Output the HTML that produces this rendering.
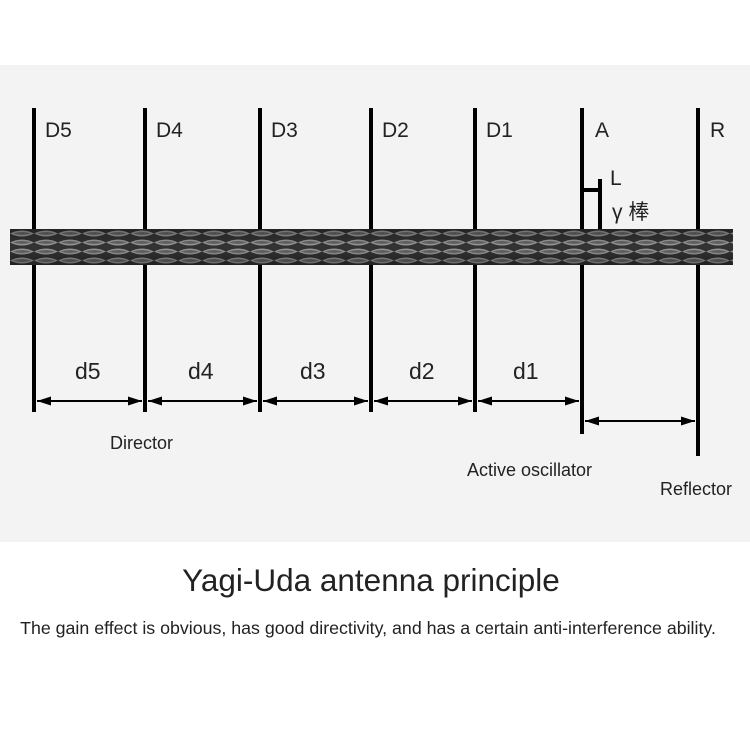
<!DOCTYPE html>
<html><head><meta charset="utf-8"><style>
html,body{margin:0;padding:0;background:#fff;width:750px;height:750px;overflow:hidden}
svg{display:block}
text{font-family:"Liberation Sans","Noto Sans CJK SC",sans-serif;fill:#222}
</style></head><body>
<svg width="750" height="750" viewBox="0 0 750 750" xmlns="http://www.w3.org/2000/svg">
<defs>
<pattern id="mesh" width="24" height="9" patternUnits="userSpaceOnUse" x="10" y="229">
<rect width="24" height="9" fill="#333"/>
<path d="M0 4.5 Q12 -1.5 24 4.5 Q12 10.5 0 4.5Z" fill="#9a9a9a"/>
<path d="M3 4.5 Q12 1.5 21 4.5 Q12 7.5 3 4.5Z" fill="#666"/>
</pattern>
<linearGradient id="shade" x1="0" y1="0" x2="0" y2="1">
<stop offset="0" stop-color="#000" stop-opacity="0.3"/>
<stop offset="0.5" stop-color="#000" stop-opacity="0"/>
<stop offset="1" stop-color="#000" stop-opacity="0.35"/>
</linearGradient>
<marker id="ah" viewBox="0 0 14 10" refX="14" refY="5" markerWidth="14" markerHeight="10" markerUnits="userSpaceOnUse" orient="auto-start-reverse"><path d="M0 0.5L14 5L0 9.5Z" fill="#000"/></marker>
</defs>
<rect x="0" y="65" width="750" height="477" fill="#f3f3f3"/>
<g stroke="#000" stroke-width="4">
<line x1="34" y1="108" x2="34" y2="412"/>
<line x1="145" y1="108" x2="145" y2="412"/>
<line x1="260" y1="108" x2="260" y2="412"/>
<line x1="371" y1="108" x2="371" y2="412"/>
<line x1="475" y1="108" x2="475" y2="412"/>
<line x1="582" y1="108" x2="582" y2="434"/>
<line x1="698" y1="108" x2="698" y2="456"/>
<line x1="600" y1="179" x2="600" y2="230"/>
<line x1="582" y1="190" x2="600" y2="190"/>
</g>
<rect x="10" y="229" width="723" height="36" fill="url(#mesh)"/>
<rect x="10" y="229" width="723" height="36" fill="url(#shade)"/>
<g stroke="#000" stroke-width="2">
<line x1="37" y1="401" x2="142" y2="401" marker-start="url(#ah)" marker-end="url(#ah)"/>
<line x1="148" y1="401" x2="257" y2="401" marker-start="url(#ah)" marker-end="url(#ah)"/>
<line x1="263" y1="401" x2="368" y2="401" marker-start="url(#ah)" marker-end="url(#ah)"/>
<line x1="374" y1="401" x2="472" y2="401" marker-start="url(#ah)" marker-end="url(#ah)"/>
<line x1="478" y1="401" x2="579" y2="401" marker-start="url(#ah)" marker-end="url(#ah)"/>
<line x1="585" y1="421" x2="695" y2="421" marker-start="url(#ah)" marker-end="url(#ah)"/>
</g>
<g font-size="21">
<text x="45" y="137">D5</text><text x="156" y="137">D4</text><text x="271" y="137">D3</text>
<text x="382" y="137">D2</text><text x="486" y="137">D1</text><text x="595" y="137">A</text><text x="710" y="137">R</text>
<text x="610" y="185">L</text>
<text x="612" y="219">γ 棒</text>
</g>
<g font-size="23">
<text x="75" y="379">d5</text><text x="188" y="379">d4</text><text x="300" y="379">d3</text>
<text x="409" y="379">d2</text><text x="513" y="379">d1</text>
</g>
<g font-size="18">
<text x="110" y="449">Director</text>
<text x="467" y="476">Active oscillator</text>
<text x="660" y="495">Reflector</text>
</g>
<text x="371" y="591" font-size="31.5" text-anchor="middle">Yagi-Uda antenna principle</text>
<text x="368" y="634" font-size="17.8" text-anchor="middle">The gain effect is obvious, has good directivity, and has a certain anti-interference ability.</text>
</svg>
</body></html>
